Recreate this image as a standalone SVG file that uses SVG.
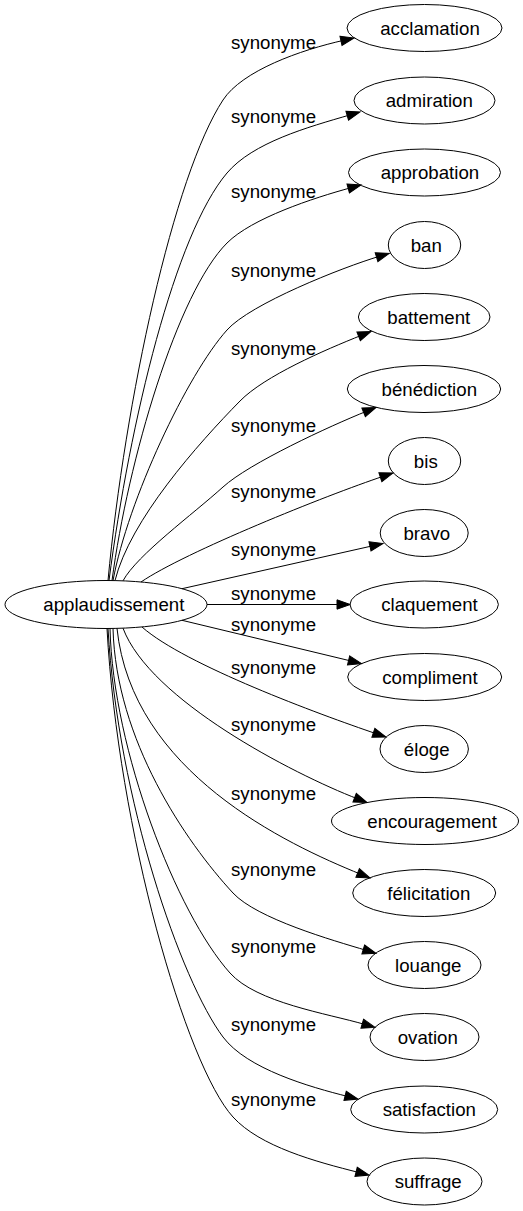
<svg xmlns="http://www.w3.org/2000/svg" width="523" height="1211" viewBox="0 0 523 1211">
<style>
.n ellipse{fill:none;stroke:#000;stroke-width:1}
text{font-family:"Liberation Sans",Arial,sans-serif;font-size:18.67px;fill:#000;text-anchor:middle}
#edges path{fill:none;stroke:#000;stroke-width:1;marker-end:url(#ah)}
</style>
<defs>
<marker id="ah" markerWidth="16" markerHeight="12" refX="3.3" refY="4.67" orient="auto" markerUnits="userSpaceOnUse" overflow="visible">
<polygon points="0,0 13.3,4.67 0,9.33" fill="#000" stroke="#000" stroke-width="1"/>
</marker>
</defs>
<rect width="523" height="1211" fill="#fff"/>
<g id="edges">
<path d="M108,580.5 C125,400 173.7,175.3 223,100 C242.2,70.7 300.3,50 344.2,40.2"/>
<path d="M109,580.5 C130,420 175.2,234 227,173 C252.9,142.5 307.2,127.3 350.4,114.8"/>
<path d="M112,580.6 C128,460 177.5,292.5 227,243 C251.7,218.3 312.8,198.1 351.4,187.6"/>
<path d="M113,580.6 C128,500 187,374.7 227,330 C250.3,303.9 341.4,267.7 379.7,256.2"/>
<path d="M115,580.6 C130,520 198,443.8 240,401 C264.5,376 324.5,350 361.7,335.2"/>
<path d="M123,580.8 C137,555 193.4,513.9 223,487 C248.9,463.4 329.6,426.1 366.7,411.2"/>
<path d="M141,582 C185,552 326.6,495.2 383.5,476.2"/>
<path d="M182,588.7 L373.2,545.7"/>
<path d="M207,604.5 L340.3,604.5"/>
<path d="M182,620.3 L351.8,661.2"/>
<path d="M142,627 C185,665 319.7,714.5 376.5,733.8"/>
<path d="M123,628.2 C150,700 292.5,773.6 357.7,798.9"/>
<path d="M117,628.4 C132,772 286.5,844.1 360.7,874.2"/>
<path d="M113,628.5 C116,740 185.5,841.6 233,893 C256.8,918.7 332.9,940.4 366.4,950.4"/>
<path d="M110,628.5 C113,750 176.6,913.4 230,973 C256.7,1002.8 327,1013.4 365.4,1024.6"/>
<path d="M108,628.5 C118,800 181,981 223,1037 C247,1069 309.5,1086.9 348.3,1096.6"/>
<path d="M107,628.5 C118,830 185.9,1065.2 233,1117 C259.9,1146.6 315.7,1161.7 359.3,1172.6"/>
<text x="273.5" y="49">synonyme</text>
<text x="273.5" y="123">synonyme</text>
<text x="273.5" y="198">synonyme</text>
<text x="273.5" y="276.5">synonyme</text>
<text x="273.5" y="355">synonyme</text>
<text x="273.5" y="431.5">synonyme</text>
<text x="273.5" y="498">synonyme</text>
<text x="273.5" y="556">synonyme</text>
<text x="273.5" y="600">synonyme</text>
<text x="273.5" y="631">synonyme</text>
<text x="273.5" y="674">synonyme</text>
<text x="273.5" y="731">synonyme</text>
<text x="273.5" y="800">synonyme</text>
<text x="273.5" y="876">synonyme</text>
<text x="273.5" y="953">synonyme</text>
<text x="273.5" y="1031">synonyme</text>
<text x="273.5" y="1106">synonyme</text>
</g>
<g id="applaudissement" class="n"><ellipse cx="106" cy="604.5" rx="101" ry="24"/><text x="113.8" y="611">applaudissement</text></g>
<g id="acclamation" class="n"><ellipse cx="424.5" cy="28" rx="77.5" ry="23.5"/><text x="430" y="34.5">acclamation</text></g>
<g id="admiration" class="n"><ellipse cx="424.5" cy="100.5" rx="70.5" ry="23.5"/><text x="429.3" y="107">admiration</text></g>
<g id="approbation" class="n"><ellipse cx="424.5" cy="172.5" rx="76" ry="23.5"/><text x="429.9" y="179">approbation</text></g>
<g id="ban" class="n"><ellipse cx="424.5" cy="245" rx="36.2" ry="23.5"/><text x="426.2" y="251.5">ban</text></g>
<g id="battement" class="n"><ellipse cx="424.2" cy="317" rx="65.8" ry="23.5"/><text x="428.8" y="323.5">battement</text></g>
<g id="benediction" class="n"><ellipse cx="424" cy="389" rx="76.7" ry="23.5"/><text x="429.3" y="395.5">bénédiction</text></g>
<g id="bis" class="n"><ellipse cx="424.5" cy="461" rx="36.2" ry="23.5"/><text x="425.8" y="467.5">bis</text></g>
<g id="bravo" class="n"><ellipse cx="424.2" cy="533" rx="44" ry="23.5"/><text x="426.8" y="539.5">bravo</text></g>
<g id="claquement" class="n"><ellipse cx="424.2" cy="604.5" rx="74.2" ry="23.5"/><text x="429.5" y="611">claquement</text></g>
<g id="compliment" class="n"><ellipse cx="424.7" cy="677" rx="77" ry="23.5"/><text x="429.9" y="683.5">compliment</text></g>
<g id="eloge" class="n"><ellipse cx="424.2" cy="749" rx="44.2" ry="23.5"/><text x="426.7" y="755.5">éloge</text></g>
<g id="encouragement" class="n"><ellipse cx="425" cy="821" rx="93.5" ry="23.5"/><text x="432.1" y="827.5">encouragement</text></g>
<g id="felicitation" class="n"><ellipse cx="424.2" cy="893" rx="71.5" ry="23.5"/><text x="428.8" y="899.5">félicitation</text></g>
<g id="louange" class="n"><ellipse cx="424.5" cy="965" rx="56.5" ry="23.5"/><text x="428.2" y="971.5">louange</text></g>
<g id="ovation" class="n"><ellipse cx="424.5" cy="1037" rx="54.5" ry="23.5"/><text x="427.8" y="1043.5">ovation</text></g>
<g id="satisfaction" class="n"><ellipse cx="424.2" cy="1109.5" rx="73.5" ry="23.5"/><text x="429.3" y="1116">satisfaction</text></g>
<g id="suffrage" class="n"><ellipse cx="424.5" cy="1181.5" rx="57.5" ry="23.5"/><text x="428.2" y="1188">suffrage</text></g>
</svg>
